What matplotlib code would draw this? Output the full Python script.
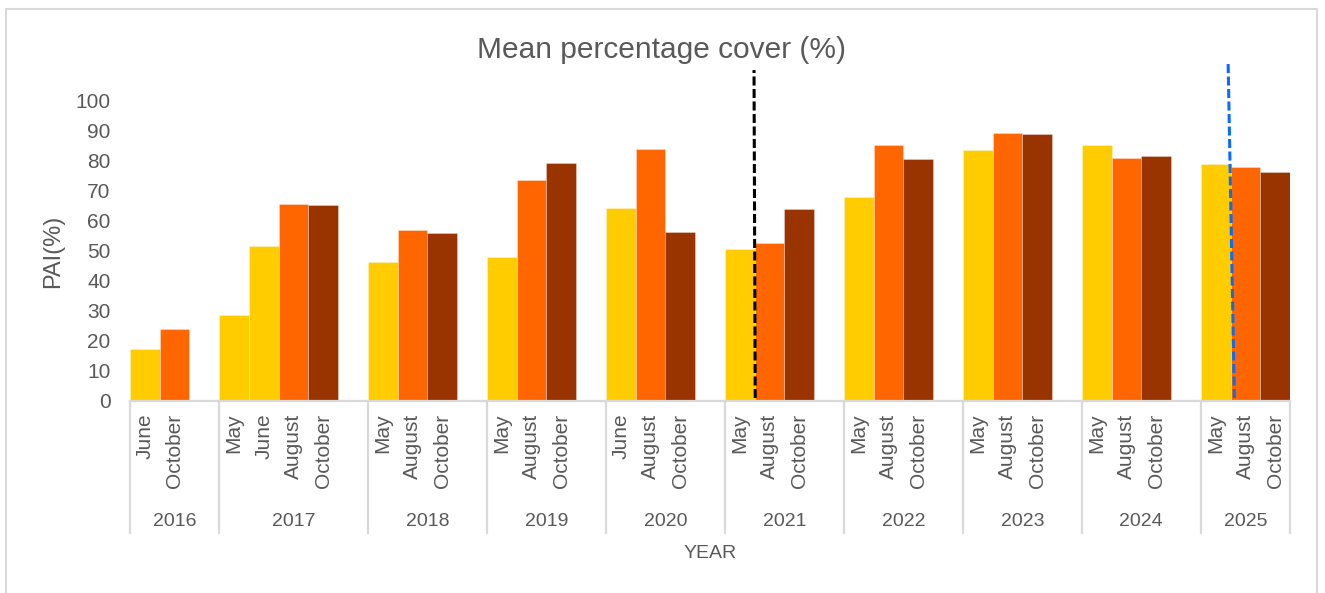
import matplotlib
matplotlib.use("Agg")
import matplotlib.pyplot as plt
import matplotlib.transforms as mtransforms
from matplotlib.patches import Rectangle
from matplotlib.lines import Line2D

plt.rcParams["lines.scale_dashes"] = False

# ---- data -------------------------------------------------------------
years = ["2016", "2017", "2018", "2019", "2020",
         "2021", "2022", "2023", "2024", "2025"]
months = [
    ["June", "October"],
    ["May", "June", "August", "October"],
    ["May", "August", "October"],
    ["May", "August", "October"],
    ["June", "August", "October"],
    ["May", "August", "October"],
    ["May", "August", "October"],
    ["May", "August", "October"],
    ["May", "August", "October"],
    ["May", "August", "October"],
]
cover = [
    [17.5, 24.0],
    [28.7, 51.6, 65.6, 65.2],
    [46.3, 57.1, 55.9],
    [47.9, 73.7, 79.2],
    [64.4, 84.0, 56.3],
    [50.7, 52.7, 63.9],
    [68.0, 85.2, 80.6],
    [83.7, 89.3, 88.9],
    [85.2, 80.9, 81.6],
    [78.9, 78.0, 76.4],
]
# colour index of every bar (0 = early season, 1 = mid, 2 = late)
shade = [
    [0, 1],
    [0, 0, 1, 2],
    [0, 1, 2],
    [0, 1, 2],
    [0, 1, 2],
    [0, 1, 2],
    [0, 1, 2],
    [0, 1, 2],
    [0, 1, 2],
    [0, 1, 2],
]
palette = ["#FFCC00", "#FF6600", "#993300"]
yticks = [0, 10, 20, 30, 40, 50, 60, 70, 80, 90, 100]

# years that get a dashed marker after their first survey, and its colour
marker_years = ["2021", "2025"]
marker_colors = ["#000000", "#0A6CFF"]

TEXT = "#595959"
GRID = "#D9D9D9"
FONT = ["Liberation Sans Narrow", "Liberation Sans", "DejaVu Sans"]

# ---- slot layout: one slot per survey, plus an empty slot closing each
# year except the last ----------------------------------------------------
x_pos, heights, colors, labels = [], [], [], []
group_edges = [0]
slot = 0
for gi, (ms, vs, sh) in enumerate(zip(months, cover, shade)):
    for m, v, s in zip(ms, vs, sh):
        x_pos.append(slot + 0.5)
        heights.append(v)
        colors.append(palette[s])
        labels.append(m)
        slot += 1
    if gi < len(years) - 1:
        slot += 1
    group_edges.append(slot)
n_slots = slot

# ---- figure -----------------------------------------------------------
W, H = 1325, 593
fig = plt.figure(figsize=(W / 100, H / 100), dpi=100)
fig.patch.set_facecolor("white")

# chart frame
fig.patches.append(Rectangle((6 / W, -0.05), (1317 - 6) / W, 1.05 - 9 / H,
                             transform=fig.transFigure, fill=False,
                             edgecolor=GRID, linewidth=1.5))

ax = fig.add_axes([130 / W, (H - 401) / H, 1160 / W, 300 / H])
ax.bar(x_pos, heights, width=1.0, color=colors,
       edgecolor=(1, 1, 1, 0.35), linewidth=0.6, zorder=2)

ax.set_xlim(0, n_slots)
ax.set_ylim(0, 100)
ax.set_yticks(yticks)
ax.set_yticklabels([str(t) for t in yticks], family=FONT,
                   fontsize=15, color=TEXT)
ax.tick_params(axis="y", length=0, pad=14)
ax.set_xticks([])
for sp in ("top", "right", "left"):
    ax.spines[sp].set_visible(False)
ax.spines["bottom"].set_color(GRID)
ax.spines["bottom"].set_linewidth(1.6)

ax.set_ylabel("PAI(%)", family=FONT, fontsize=17, color=TEXT, labelpad=8)

# multi-level category axis
trans = mtransforms.blended_transform_factory(ax.transData, ax.transAxes)
for e in group_edges:
    ax.add_line(Line2D([e, e], [0, -0.44], transform=trans, color=GRID,
                       linewidth=1.6, clip_on=False))
for x, lab in zip(x_pos, labels):
    ax.text(x, -0.042, lab, transform=trans, rotation=90, ha="center",
            va="top", family=FONT, fontsize=15, color=TEXT)
for yi, yr in enumerate(years):
    mid = (group_edges[yi] + group_edges[yi + 1]) / 2
    ax.text(mid, -0.40, yr, transform=trans, ha="center", va="center",
            family=FONT, fontsize=14, color=TEXT)
ax.text(0.5, -0.51, "YEAR", transform=ax.transAxes, ha="center",
        va="center", family=FONT, fontsize=14, color=TEXT)

# dashed markers between the first and second survey of a year
lean = [(-0.02, 0.02), (-0.08, 0.13)]
tops = [110.3, 112.7]
for yr, col, (dt, db), top in zip(marker_years, marker_colors, lean, tops):
    gi = years.index(yr)
    edge = group_edges[gi] + 1
    ln = Line2D([edge + db, edge + dt], [1.0, top], color=col,
                linewidth=2.2, dashes=(6.5, 2.5), clip_on=False, zorder=5)
    ax.add_line(ln)

fig.text(0.4996, (H - 50) / H, "Mean percentage cover (%)", ha="center",
         va="center", family=["Liberation Sans", "DejaVu Sans"],
         fontsize=21.5, color=TEXT)

fig.savefig("out.png", dpi=100)
